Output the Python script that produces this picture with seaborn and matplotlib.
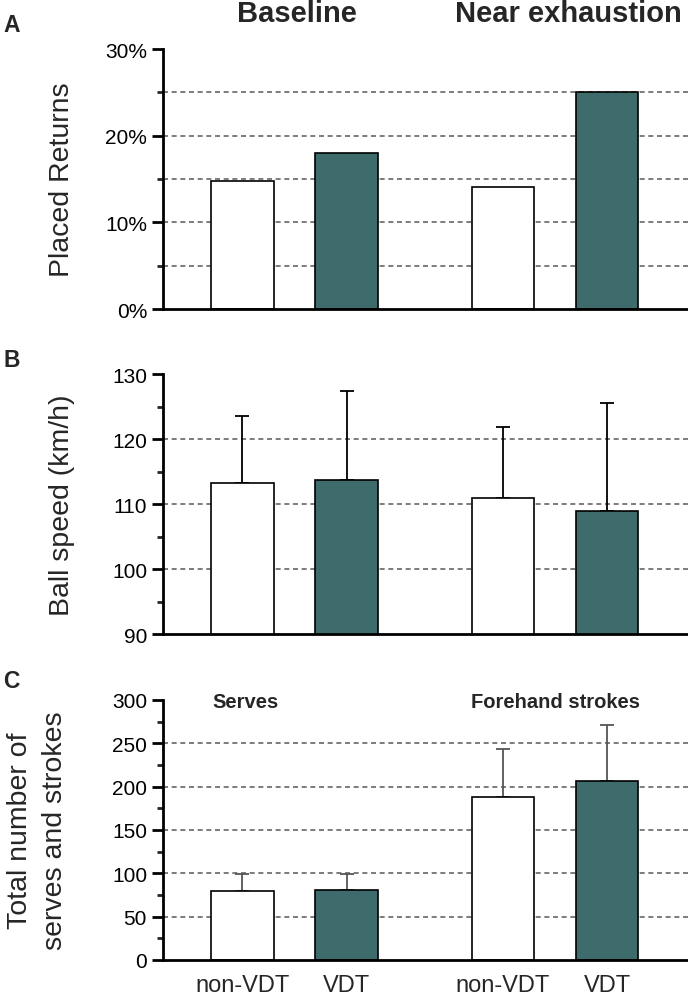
import numpy as np
import pandas as pd
import matplotlib.pyplot as plt
import matplotlib.transforms as mtransforms
from matplotlib.ticker import MultipleLocator, FuncFormatter
import seaborn as sns

# data
conditions = ["Baseline", "Baseline", "Near exhaustion", "Near exhaustion"]
groups = ["non-VDT", "VDT", "non-VDT", "VDT"]

placed_returns = [14.8, 18.0, 14.1, 25.0]      # percent
ball_speed = [113.3, 113.7, 110.9, 109.0]      # km/h
ball_speed_sd = [10.3, 13.7, 10.9, 16.6]
total_counts = [80, 81, 188, 207]
total_counts_sd = [19, 18, 56, 64]

teal = "#3e6c6c"
palette = {"non-VDT": "white", "VDT": teal}

sns.set_style("ticks")
plt.rcParams["font.family"] = ["Liberation Sans", "DejaVu Sans"]

fig = plt.figure(figsize=(6.88, 9.95), dpi=100)
ax_a = fig.add_axes([0.2369, 0.6884, 0.7631, 0.2613])
ax_b = fig.add_axes([0.2369, 0.3618, 0.7631, 0.2613])
ax_c = fig.add_axes([0.2369, 0.0342, 0.7631, 0.2613])


def draw_panel(ax, values, errs, ylim, major, minor, grid_vals, ylabel, err_color="black"):
    df = pd.DataFrame({"condition": conditions, "group": groups, "value": values})
    sns.barplot(data=df, x="condition", y="value", hue="group", palette=palette,
                saturation=1, edgecolor="black", linewidth=1.2, gap=0.4,
                errorbar=None, legend=False, ax=ax, zorder=2)
    bars = sorted(ax.patches, key=lambda p: p.get_x())
    centers = [p.get_x() + p.get_width() / 2 for p in bars]
    if errs is not None:
        ax.errorbar(centers, values, yerr=[np.zeros(len(errs)), errs], fmt="none",
                    ecolor=err_color, elinewidth=1.3, capsize=5, capthick=1.3, zorder=1.5)
    for g in grid_vals:
        ax.axhline(g, color="#666666", lw=1.2, ls=(0, (3, 2.2)), zorder=0.5)
    ax.set_ylim(*ylim)
    ax.set_xlim(-0.505, 1.51)
    ax.yaxis.set_major_locator(MultipleLocator(major))
    ax.yaxis.set_minor_locator(MultipleLocator(minor))
    ax.set_xticks(centers)
    ax.set_xticklabels([])
    ax.set_xlabel("")
    ax.set_ylabel(ylabel, fontsize=20.5, linespacing=1.45)
    ax.yaxis.set_label_coords(-0.168, 0.5)
    sns.despine(ax=ax)
    for s in ["left", "bottom"]:
        ax.spines[s].set_linewidth(2)
        ax.spines[s].set_color("black")
    ax.tick_params(axis="y", which="major", length=8, width=2, labelsize=15, colors="black")
    ax.tick_params(axis="y", which="minor", length=4, width=2)
    ax.tick_params(axis="x", length=0, labelsize=17, pad=10)
    return centers


draw_panel(ax_a, placed_returns, None, (0, 30), 10, 5, [5, 10, 15, 20, 25], "Placed Returns")
ax_a.yaxis.set_major_formatter(FuncFormatter(lambda v, _: f"{v:.0f}%"))

draw_panel(ax_b, ball_speed, ball_speed_sd, (90, 130), 10, 5, [100, 110, 120], "Ball speed (km/h)")

centers_c = draw_panel(ax_c, total_counts, total_counts_sd, (0, 300), 50, 25,
                       [50, 100, 150, 200, 250], "Total number of\nserves and strokes",
                       err_color="#555555")
ax_c.set_xticklabels(groups)
ax_c.yaxis.set_label_coords(-0.18, 0.5)

# column headers
trans = mtransforms.blended_transform_factory(ax_a.transData, fig.transFigure)
ax_a.text(0.01, 0.978, "Baseline", transform=trans, ha="center", va="baseline",
          fontsize=21, fontweight="bold")
ax_a.text(1.05, 0.978, "Near exhaustion", transform=trans, ha="center", va="baseline",
          fontsize=21, fontweight="bold")

ax_c.text(-0.19, 0.973, "Serves", transform=ax_c.get_xaxis_transform(), ha="center",
          va="baseline", fontsize=14.5, fontweight="bold")
ax_c.text(1.0, 0.973, "Forehand strokes", transform=ax_c.get_xaxis_transform(), ha="center",
          va="baseline", fontsize=14.5, fontweight="bold")

# panel letters
for letter, ypix in [("A", 32), ("B", 367), ("C", 688)]:
    fig.text(0.005, 1 - ypix / 995, letter, fontsize=16.5, fontweight="bold", va="baseline")

fig.savefig("out.png", dpi=100)
